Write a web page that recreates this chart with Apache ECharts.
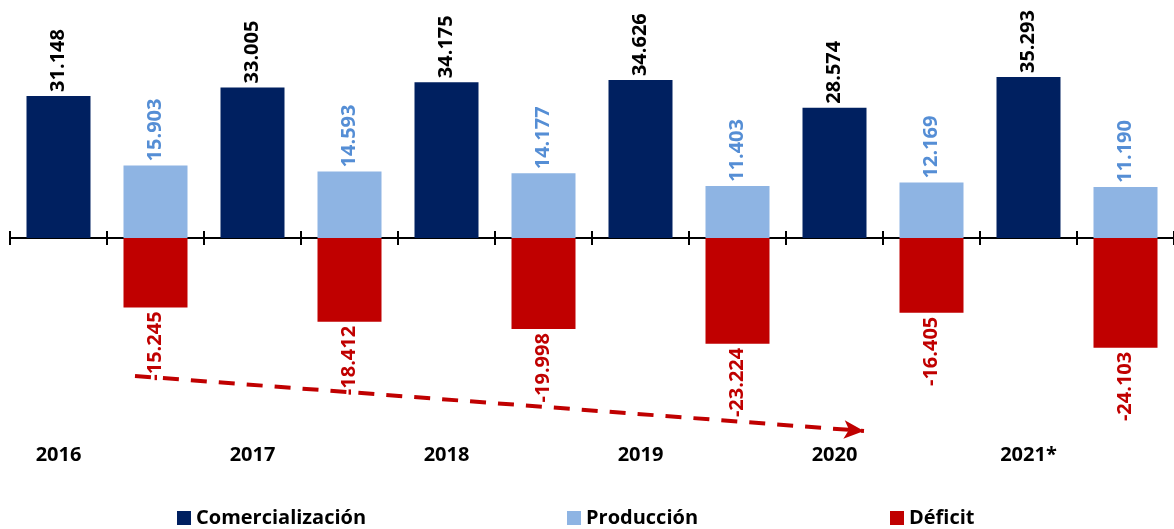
<!DOCTYPE html>
<html>
<head>
<meta charset="utf-8">
<script src="https://cdn.jsdelivr.net/npm/echarts@6/dist/echarts.min.js"></script>
<style>
  html, body { margin: 0; padding: 0; background: #ffffff; }
  #chart { width: 1174px; height: 529px; }
</style>
</head>
<body>
<div id="chart"></div>
<script>
// ---- data ----
const years = ['2016', '2017', '2018', '2019', '2020', '2021*'];
const comercializacion = [31148, 33005, 34175, 34626, 28574, 35293];
const produccion = [15903, 14593, 14177, 11403, 12169, 11190];
const deficit = [-15245, -18412, -19998, -23224, -16405, -24103];

// each year takes two slots: [Comercialización] [Producción / Déficit]
const slots = [];
const sCom = [], sProd = [], sDef = [];
years.forEach((y, i) => {
  slots.push(y, y + '_b');
  sCom.push(comercializacion[i], '-');
  sProd.push('-', produccion[i]);
  sDef.push('-', deficit[i]);
});

function fmt(v) {
  const n = Math.abs(v);
  const s = String(n).replace(/\B(?=(\d{3})+(?!\d))/g, '.');
  return (v < 0 ? '-' : '') + s;
}

const FONT = '"Open Sans", "Liberation Sans", sans-serif';
const NAVY = '#002060', LIGHT = '#8EB4E3', RED = '#C00000';

const chart = echarts.init(document.getElementById('chart'), null, { renderer: 'canvas' });

const topLabel = (color) => ({
  show: true, position: 'top', rotate: 90, align: 'left', verticalAlign: 'middle',
  distance: 4, color: color, fontFamily: FONT, fontWeight: 'bold', fontSize: 20,
  formatter: p => fmt(p.value)
});

const legendCommon = {
  top: 503, icon: 'rect', itemWidth: 14, itemHeight: 14,
  textStyle: { fontFamily: FONT, fontWeight: 'bold', fontSize: 20, color: '#000' }
};

const Y_MIN = -44000, Y_MAX = 50000;

chart.setOption({
  animation: false,
  grid: { left: 10, right: 0, top: 10, bottom: 90.5, containLabel: false, outerBoundsMode: 'none' },
  legend: [
    Object.assign({ left: 172, data: ['Comercialización'] }, legendCommon),
    Object.assign({ left: 562, data: ['Producción'] }, legendCommon),
    Object.assign({ left: 885, data: ['Déficit'] }, legendCommon)
  ],
  xAxis: [
    {
      type: 'category', data: slots, position: 'bottom',
      axisLine: { onZero: true, onZeroAxisIndex: 0, lineStyle: { color: '#000', width: 2 } },
      axisTick: { show: true, length: 7, lineStyle: { color: '#000', width: 2 } },
      axisLabel: { show: false },
      splitLine: { show: false }
    },
    {
      type: 'category', data: slots, position: 'bottom',
      axisLine: { show: false, onZero: true, onZeroAxisIndex: 1 },
      axisTick: { show: true, inside: true, length: 7, lineStyle: { color: '#000', width: 2 } },
      axisLabel: { show: false },
      splitLine: { show: false }
    },
    {
      type: 'category', data: slots, position: 'bottom',
      axisLine: { show: false, onZero: false },
      axisTick: { show: false },
      axisLabel: {
        show: true, interval: 0, margin: 7, fontFamily: FONT, fontWeight: 'bold', fontSize: 20, color: '#000',
        formatter: (v, i) => (i % 2 === 0 ? v : '')
      },
      splitLine: { show: false }
    }
  ],
  yAxis: [
    { type: 'value', min: Y_MIN, max: Y_MAX, show: false, splitLine: { show: false } },
    { type: 'value', min: Y_MIN, max: Y_MAX, show: false, splitLine: { show: false } }
  ],
  series: [
    {
      name: 'Comercialización', type: 'bar', stack: 'total', data: sCom,
      barWidth: 64, itemStyle: { color: NAVY },
      label: topLabel('#000')
    },
    {
      name: 'Producción', type: 'bar', stack: 'total', data: sProd,
      barWidth: 64, itemStyle: { color: LIGHT },
      label: topLabel('#558ED5')
    },
    {
      name: 'Déficit', type: 'bar', stack: 'total', data: sDef,
      barWidth: 64, itemStyle: { color: RED },
      label: {
        show: true, position: 'bottom', rotate: 90, align: 'right', verticalAlign: 'middle',
        distance: 4, color: RED, fontFamily: FONT, fontWeight: 'bold', fontSize: 20,
        formatter: p => fmt(p.value)
      },
      markLine: {
        silent: true, animation: false,
        symbol: ['none', 'arrow'], symbolSize: [14, 20],
        label: { show: false },
        lineStyle: { color: RED, width: 4, type: [16, 12] },
        data: [[{ x: 135, y: 376 }, { x: 864, y: 431 }]]
      }
    }
  ]
});
</script>
</body>
</html>
